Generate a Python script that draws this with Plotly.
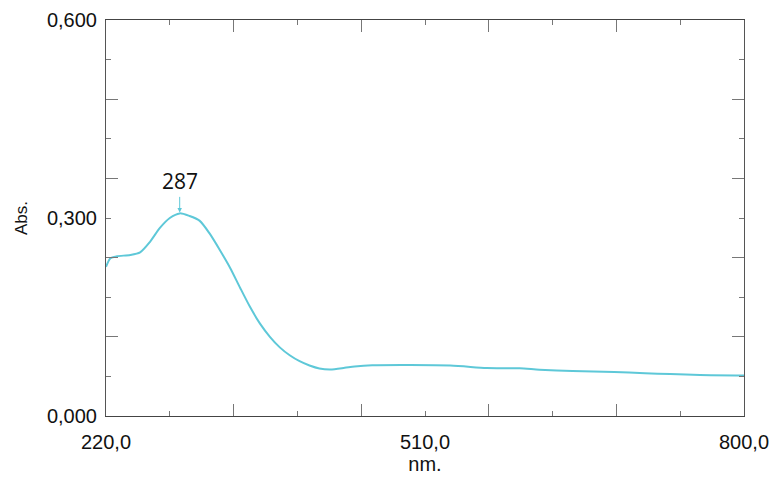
import plotly.graph_objects as go

# Data
wavelength_nm = [220, 224, 230, 242, 251, 260, 269, 278, 287, 296, 305, 314, 324,
                 333, 342, 351, 360, 369, 378, 387, 396, 405, 414, 424, 437, 446,
                 462, 533, 566, 596, 614, 644, 682, 710, 733, 760, 800]
absorbance = [0.226, 0.239, 0.242, 0.244, 0.248, 0.264, 0.285, 0.300, 0.307, 0.303,
              0.296, 0.277, 0.250, 0.224, 0.194, 0.165, 0.140, 0.120, 0.104, 0.092,
              0.083, 0.0765, 0.072, 0.0705, 0.073, 0.075, 0.0768, 0.0765, 0.0727,
              0.0723, 0.0702, 0.0682, 0.0667, 0.0647, 0.0636, 0.0621, 0.0614]

x_tick_vals = [220, 510, 800]
x_tick_text = ["220,0", "510,0", "800,0"]
y_tick_vals = [0.0, 0.3, 0.6]
y_tick_text = ["0,000", "0,300", "0,600"]
peak_label = "287"
peak_x = 287
peak_y = 0.307

X_RANGE = [220, 800]
Y_RANGE = [0, 0.6]
CURVE = "#5ec8d8"
TICKC = "#777777"
FONT = "Liberation Sans, Arial, sans-serif"

fig = go.Figure()
# invisible copy on the tick-only overlay axes so they get drawn
fig.add_trace(go.Scatter(x=wavelength_nm, y=absorbance, mode="lines",
                         line=dict(color="rgba(0,0,0,0)", width=0),
                         opacity=0, showlegend=False, hoverinfo="skip",
                         xaxis="x2", yaxis="y2"))
fig.add_trace(go.Scatter(x=wavelength_nm, y=absorbance, mode="lines",
                         line=dict(color=CURVE, width=2, shape="spline",
                                   smoothing=0.7),
                         showlegend=False, hoverinfo="skip"))

fig.update_layout(
    width=773, height=478, autosize=False,
    margin=dict(l=106, r=29, t=20, b=62, pad=0),
    paper_bgcolor="white", plot_bgcolor="white",
    font=dict(family=FONT, size=20, color="#111111"),
    xaxis=dict(range=X_RANGE, tickmode="array", tickvals=x_tick_vals,
               ticktext=x_tick_text, ticks="outside", ticklen=8,
               tickcolor="rgba(0,0,0,0)", showline=True, mirror=True,
               linecolor="#444444", linewidth=1, showgrid=False, zeroline=False,
               automargin=False,
               title=dict(text="nm.", standoff=2, font=dict(size=20))),
    yaxis=dict(range=Y_RANGE, tickmode="array", tickvals=y_tick_vals,
               ticktext=y_tick_text, ticks="outside", ticklen=4,
               tickcolor="rgba(0,0,0,0)", showline=True, mirror=True,
               linecolor="#555555", linewidth=1, showgrid=False, zeroline=False,
               automargin=False,
               title=dict(text="Abs.", standoff=14, font=dict(size=17))),
    xaxis2=dict(range=X_RANGE, overlaying="x", anchor="y", side="bottom",
                tickmode="linear", tick0=220, dtick=116, ticks="inside",
                ticklen=12, tickwidth=1, tickcolor=TICKC, mirror="ticks",
                showticklabels=False, showline=False, showgrid=False,
                zeroline=False, automargin=False,
                minor=dict(ticks="inside", ticklen=5, tick0=220, dtick=58,
                           tickcolor=TICKC, tickwidth=1, showgrid=False)),
    yaxis2=dict(range=Y_RANGE, overlaying="y", anchor="x", side="left",
                tickmode="linear", tick0=0, dtick=0.12, ticks="inside",
                ticklen=12, tickwidth=1, tickcolor=TICKC, mirror="ticks",
                showticklabels=False, showline=False, showgrid=False,
                zeroline=False, automargin=False,
                minor=dict(ticks="inside", ticklen=5, tick0=0, dtick=0.06,
                           tickcolor=TICKC, tickwidth=1, showgrid=False)),
)

fig.add_annotation(x=peak_x, y=peak_y, xref="x", yref="y", text=peak_label,
                   showarrow=True, arrowhead=2, arrowsize=0.9, arrowwidth=1,
                   arrowcolor=CURVE, ax=0, ay=-32, standoff=1,
                   font=dict(family="Open Sans, Noto Sans, sans-serif", size=21,
                             color="#111111"))

fig.write_html("out.html")
